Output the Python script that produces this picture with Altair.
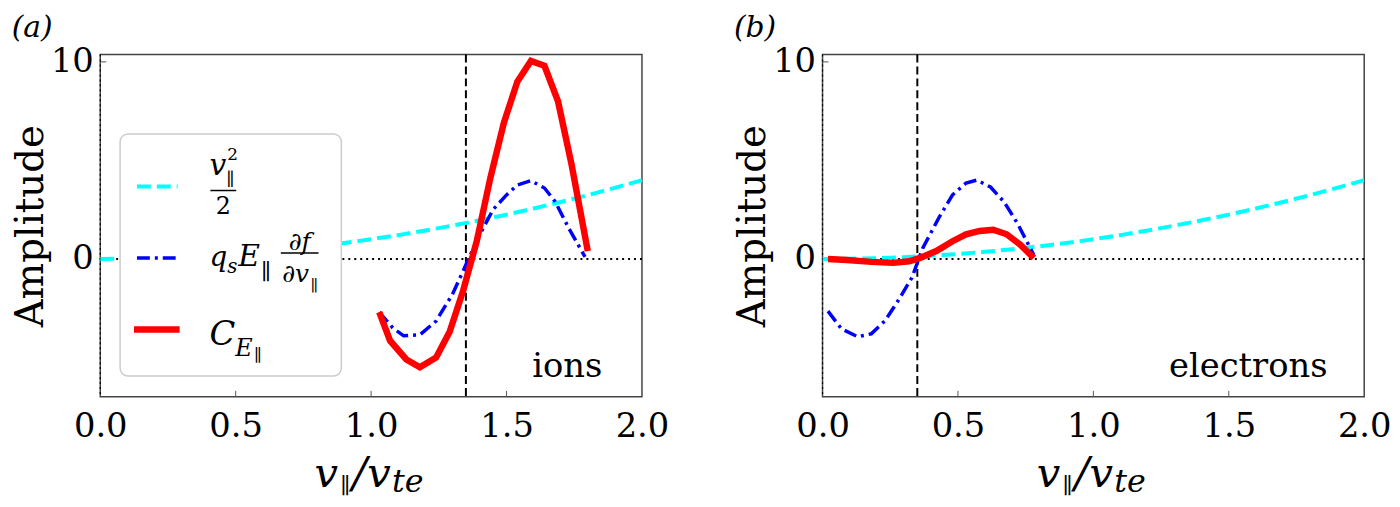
import altair as alt
import pandas as pd

v_grid = [0.0, 0.1, 0.2, 0.3, 0.4, 0.5, 0.6, 0.7, 0.8, 0.9, 1.0,
          1.1, 1.2, 1.3, 1.4, 1.5, 1.6, 1.7, 1.8, 1.9, 2.0]
v_sq = [0.0, 0.01, 0.04, 0.09, 0.16, 0.25, 0.36, 0.49, 0.64, 0.81, 1.0,
        1.21, 1.44, 1.69, 1.96, 2.25, 2.56, 2.89, 3.24, 3.61, 4.0]

# (a) ions
ion_v_c = [1.03, 1.07, 1.13, 1.18, 1.24, 1.29, 1.34, 1.39, 1.44, 1.49, 1.54, 1.59, 1.64, 1.69, 1.74, 1.80]
ion_c = [-2.7, -4.15, -5.1, -5.5, -5.0, -3.7, -1.6, 0.9, 4.1, 6.9, 9.0, 10.05, 9.8, 8.0, 4.8, 0.4]
ion_v_q = [1.03, 1.08, 1.12, 1.18, 1.24, 1.30, 1.35, 1.40, 1.45, 1.50, 1.54, 1.59, 1.64, 1.68, 1.73, 1.79]
ion_q = [-2.7, -3.5, -3.9, -3.85, -3.15, -1.8, -0.3, 1.2, 2.5, 3.25, 3.75, 3.97, 3.6, 2.9, 1.55, 0.1]

# (b) electrons
ele_v_c = [0.02, 0.09, 0.18, 0.26, 0.32, 0.36, 0.42, 0.48, 0.53, 0.58, 0.63, 0.68, 0.73, 0.78]
ele_c = [0.0, -0.05, -0.15, -0.2, -0.12, 0.05, 0.4, 0.9, 1.25, 1.42, 1.48, 1.25, 0.72, 0.05]
ele_v_q = [0.02, 0.07, 0.13, 0.18, 0.23, 0.28, 0.33, 0.37, 0.43, 0.48, 0.53, 0.57, 0.62, 0.67, 0.72, 0.78]
ele_q = [-2.65, -3.55, -3.95, -3.8, -3.15, -2.1, -0.95, 0.55, 2.1, 3.25, 3.85, 4.0, 3.65, 2.9, 1.8, 0.2]

resonance_a = 1.35
resonance_b = 0.35

x_ticks = [0.0, 0.5, 1.0, 1.5, 2.0]
y_ticks = [0, 10]

W, H = 546, 345
SERIF = "DejaVu Serif"
CYAN, BLUE, RED = "#00ffff", "#0000ff", "#ff0000"

xs = alt.Scale(domain=[0, 2], nice=False, zero=False)
ys = alt.Scale(domain=[-7, 10.37], nice=False, zero=False)
xaxis = alt.Axis(values=x_ticks, format=".1f", title=None, labelPadding=13, labelFlush=False,
                 ticks=False, grid=False, domain=False)
yaxis = alt.Axis(values=y_ticks, title="Amplitude", titleFontSize=39, labelPadding=7,
                 labelFlush=False, titlePadding=0, ticks=False, grid=False, domain=False)
one = pd.DataFrame({"k": [0]})


def curve(v, a, color, width, dash=None):
    kw = dict(color=color, strokeWidth=width, clip=True)
    if dash:
        kw["strokeDash"] = dash
    return alt.Chart(pd.DataFrame({"v": v, "a": a})).mark_line(**kw).encode(
        x=alt.X("v:Q", scale=xs, axis=xaxis),
        y=alt.Y("a:Q", scale=ys, axis=yaxis),
    )


def vline(v, dash, width):
    return alt.Chart(pd.DataFrame({"v": [v]})).mark_rule(
        color="black", strokeDash=dash, strokeWidth=width
    ).encode(x=alt.X("v:Q", scale=xs, axis=xaxis))


def label(txt, px, py, size, italic=True, align="left"):
    return alt.Chart(one).mark_text(
        font=SERIF, fontSize=size, fontStyle="italic" if italic else "normal",
        align=align, baseline="alphabetic", color="black"
    ).encode(x=alt.value(px), y=alt.value(py), text=alt.value(txt))


def hrule(x1, x2, y, color="black", width=1.5, dash=None):
    kw = dict(color=color, strokeWidth=width)
    if dash:
        kw["strokeDash"] = dash
    return alt.Chart(one).mark_rule(**kw).encode(
        x=alt.value(x1), x2=alt.value(x2), y=alt.value(y))


def xtitle():
    # v_par / v_te, built from pieces so the subscripts sit low and small
    c = W / 2
    b = H + 91
    return [
        label("v", c - 57, b, 42),
        label("∥", c - 31, b + 6, 22, italic=False),
        label("/", c - 19, b, 44),
        label("v", c - 4, b, 42),
        label("te", c + 21, b + 5, 32),
    ]


def panel(tag, v_c, c, v_q, q, res, species, species_x, legend=False):
    zero = alt.Chart(pd.DataFrame({"a": [0]})).mark_rule(
        color="black", strokeDash=[2, 4], strokeWidth=2
    ).encode(y=alt.Y("a:Q", scale=ys, axis=yaxis))
    xt = alt.Chart(pd.DataFrame({"v": x_ticks[1:-1]})).mark_rule(
        color="#555555", strokeWidth=1
    ).encode(x=alt.X("v:Q", scale=xs, axis=xaxis), y=alt.value(H), y2=alt.value(H - 6))
    yt = alt.Chart(pd.DataFrame({"a": y_ticks[1:]})).mark_rule(
        color="#555555", strokeWidth=1
    ).encode(y=alt.Y("a:Q", scale=ys, axis=yaxis), x=alt.value(0), x2=alt.value(6))
    layers = [
        zero, xt, yt,
        vline(0, [2, 3], 1.2),
        vline(res, [8, 4], 2),
        curve(v_grid, v_sq, CYAN, 4, [14, 6]),
        curve(v_q, q, BLUE, 3.5, [13, 5, 3, 5]),
        curve(v_c, c, RED, 6.5),
        label(species, species_x, 325, 34, italic=False, align="right"),
    ] + xtitle()
    if legend:
        layers += [
            alt.Chart(one).mark_rect(fill="white", stroke="#cccccc", strokeWidth=1.5,
                                     cornerRadius=8).encode(
                x=alt.value(20), x2=alt.value(243), y=alt.value(80), y2=alt.value(324)),
            hrule(37, 78, 133, CYAN, 4, [14, 6]),
            hrule(37, 78, 205, BLUE, 3.5, [13, 5, 3, 5]),
            hrule(34, 80, 277, RED, 6.5),
            # v_par^2 / 2
            label("v", 110, 121, 30),
            label("2", 128, 106, 17, italic=False),
            label("∥", 127, 131, 18, italic=False),
            hrule(111, 137, 137),
            label("2", 124, 161, 24, italic=False, align="center"),
            # q_s E_par df/dv_par
            label("q", 110, 213, 28),
            label("s", 128, 220, 20),
            label("E", 139, 213, 30),
            label("∥", 162, 226, 22, italic=False),
            label("∂f", 201, 197, 25, align="center"),
            hrule(182, 220, 200),
            label("∂v", 197, 229, 25, align="center"),
            label("∥", 212, 238, 16, italic=False),
            # C_E_par
            label("C", 110, 293, 34),
            label("E", 136, 304, 24),
            label("∥", 155, 309, 17, italic=False),
        ]
    return alt.layer(*layers).properties(
        width=W, height=H,
        title=alt.TitleParams(tag, anchor="start", frame="bounds", font=SERIF, fontSize=30,
                              fontStyle="italic", fontWeight="normal", offset=2),
    )


pa = panel("(a)", ion_v_c, ion_c, ion_v_q, ion_q, resonance_a, "ions", W - 40, legend=True)
pb = panel("(b)", ele_v_c, ele_c, ele_v_q, ele_q, resonance_b, "electrons", W - 37)

chart = alt.hconcat(pa, pb, spacing=182, bounds="flush").properties(
    padding={"left": 2, "top": 2, "right": 0, "bottom": 0}
).configure_view(
    stroke="#444444", strokeWidth=1.5
).configure_axis(
    labelFont=SERIF, labelFontSize=34, labelColor="black",
    titleFont=SERIF, titleFontWeight="normal", titleColor="black",
)

chart.save("out.html", embed_options={"renderer": "svg", "actions": False})
